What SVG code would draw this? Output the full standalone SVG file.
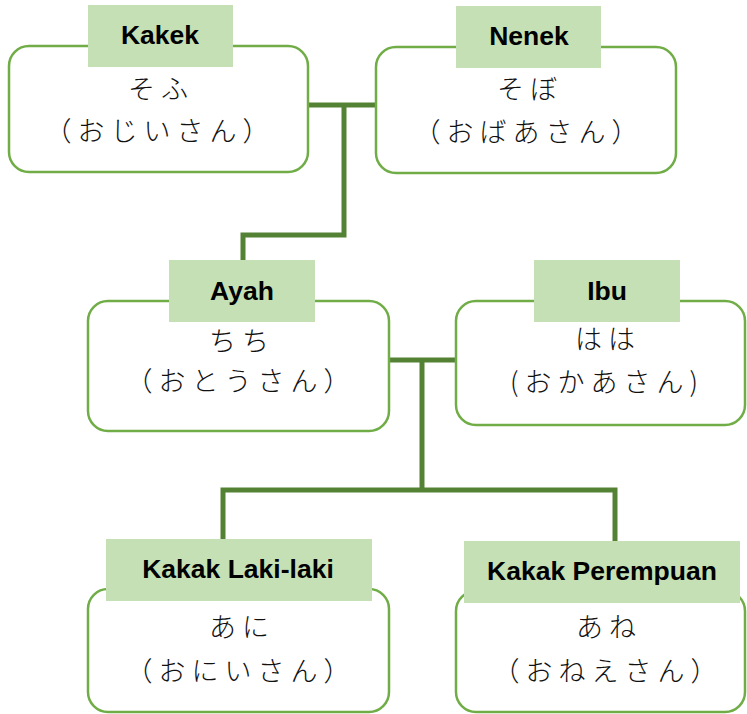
<svg xmlns="http://www.w3.org/2000/svg" width="747" height="714" viewBox="0 0 747 714">
<style>
.box{fill:#fff;stroke:#70ad47;stroke-width:2.5}
.lab{fill:#c5e0b4}
.lt{font-family:"Liberation Sans",Arial,sans-serif;font-weight:bold;font-size:26.5px;fill:#000;text-anchor:middle}
.jp{font-family:"Noto Sans CJK JP","Noto Sans CJK SC",sans-serif;font-weight:300;font-size:27px;fill:#111;text-anchor:middle;letter-spacing:6px}
.con{fill:none;stroke:#548235;stroke-width:5}
</style>
<g id="connectors">
<path class="con" d="M308,105 H376"/>
<path class="con" d="M344,105 V235 H243 V260"/>
<path class="con" d="M389,360 H456"/>
<path class="con" d="M422,360 V490"/>
<path class="con" d="M223,539 V490 H615 V541"/>
</g>
<g id="kakek">
<rect class="box" x="9" y="46" width="299" height="126" rx="20"/>
<rect class="lab" x="88" y="5" width="145" height="62"/>
<text class="lt" x="160" y="44">Kakek</text>
<text class="jp" x="161" y="99">そふ</text>
<text class="jp" x="160" y="141">（おじいさん）</text>
</g>
<g id="nenek">
<rect class="box" x="376" y="47" width="300" height="126" rx="20"/>
<rect class="lab" x="456" y="6" width="145" height="62"/>
<text class="lt" x="529" y="45">Nenek</text>
<text class="jp" x="530" y="99">そぼ</text>
<text class="jp" x="529" y="142">（おばあさん）</text>
</g>
<g id="ayah">
<rect class="box" x="88" y="301" width="301" height="130" rx="20"/>
<rect class="lab" x="169" y="260" width="146" height="62"/>
<text class="lt" x="242" y="300">Ayah</text>
<text class="jp" x="242" y="351">ちち</text>
<text class="jp" x="241" y="391">（おとうさん）</text>
</g>
<g id="ibu">
<rect class="box" x="456" y="301" width="289" height="124" rx="20"/>
<rect class="lab" x="534" y="260" width="146" height="62"/>
<text class="lt" x="607" y="300">Ibu</text>
<text class="jp" x="608" y="349">はは</text>
<text class="jp" x="607" y="392">(おかあさん)</text>
</g>
<g id="kakak-laki-laki">
<rect class="box" x="88" y="589" width="301" height="123" rx="20"/>
<rect class="lab" x="106" y="539" width="266" height="62"/>
<text class="lt" x="238" y="578">Kakak Laki-laki</text>
<text class="jp" x="242" y="637">あに</text>
<text class="jp" x="241" y="681">（おにいさん）</text>
</g>
<g id="kakak-perempuan">
<rect class="box" x="456" y="591" width="289" height="121" rx="20"/>
<rect class="lab" x="464" y="541" width="276" height="62"/>
<text class="lt" x="602" y="580">Kakak Perempuan</text>
<text class="jp" x="609" y="637">あね</text>
<text class="jp" x="608" y="681">（おねえさん）</text>
</g>
</svg>
